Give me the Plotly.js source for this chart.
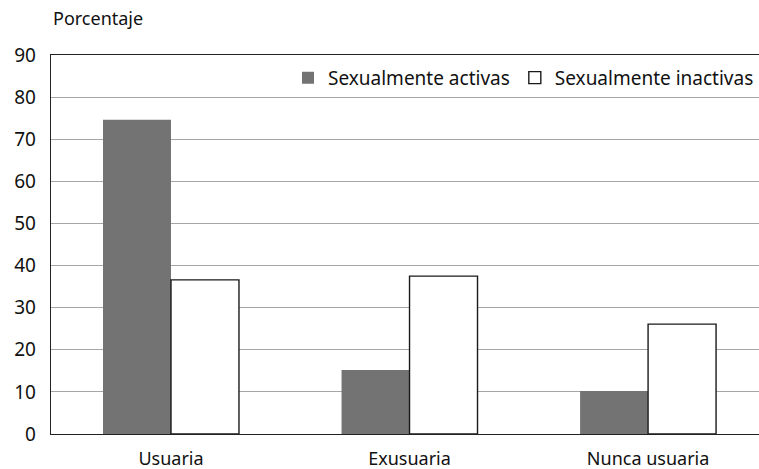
<!DOCTYPE html>
<html>
<head>
<meta charset="utf-8">
<script src="https://cdn.plot.ly/plotly-3.0.1.min.js"></script>
<style>html,body{margin:0;padding:0;background:#fff;}#chart{width:759px;height:469px;}</style>
</head>
<body>
<div id="chart"></div>
<script>
const categories = ["Usuaria", "Exusuaria", "Nunca usuaria"];
const activas = [74.6, 15.2, 10.2];
const inactivas = [36.6, 37.5, 26.1];
const seriesNames = ["Sexualmente activas", "Sexualmente inactivas"];
const yTicks = [0, 10, 20, 30, 40, 50, 60, 70, 80, 90];
const yLabel = "Porcentaje";

const font = "Noto Sans, Open Sans, sans-serif";

const traces = [
  {
    type: "bar", x: categories, y: activas, name: seriesNames[0],
    marker: {color: "#737373", line: {color: "#737373", width: 0}}
  },
  {
    type: "bar", x: categories, y: inactivas, name: seriesNames[1],
    marker: {color: "#ffffff", line: {color: "#1a1a1a", width: 1.4}}
  }
];

const layout = {
  width: 759, height: 469,
  margin: {l: 51, r: 0, t: 55, b: 35},
  paper_bgcolor: "#fff", plot_bgcolor: "#fff",
  barmode: "group", bargap: 0.43, bargroupgap: 0,
  font: {family: font, color: "#111", size: 18},
  xaxis: {
    type: "category", range: [-0.503, 2.465],
    showline: true, linecolor: "#222", linewidth: 1.3, mirror: true,
    showgrid: false, ticks: "", ticklabelstandoff: 8,
    tickfont: {size: 18, family: font, color: "#111"},
    fixedrange: true
  },
  yaxis: {
    range: [0, 90], tickvals: yTicks, ticktext: yTicks.map(String),
    showline: true, linecolor: "#222", linewidth: 1.3,
    showgrid: true, gridcolor: "#a6a6a6", gridwidth: 1.2,
    zeroline: false, ticks: "", ticklen: 0, ticklabelstandoff: 10,
    tickfont: {size: 19, family: font, color: "#111"},
    fixedrange: true
  },
  legend: {
    orientation: "h", x: 1.0, xanchor: "right", y: 0.99, yanchor: "top",
    bgcolor: "rgba(0,0,0,0)", font: {size: 19, family: font, color: "#111"},
    itemwidth: 30, traceorder: "normal"
  },
  annotations: [{
    text: yLabel, xref: "paper", yref: "paper", x: 0.0, xanchor: "left",
    y: 1.098, yanchor: "middle", showarrow: false,
    font: {size: 18, family: font, color: "#111"}
  }],
  showlegend: true
};

Plotly.newPlot("chart", traces, layout, {staticPlot: true, displayModeBar: false});
</script>
</body>
</html>
